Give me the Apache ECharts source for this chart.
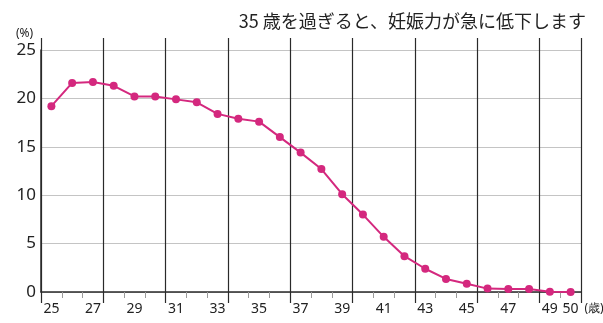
<!DOCTYPE html>
<html>
<head>
<meta charset="utf-8">
<script src="https://cdn.jsdelivr.net/npm/echarts@6/dist/echarts.min.js"></script>
<style>
  html, body { margin: 0; padding: 0; background: #fff; }
  #chart { width: 603px; height: 323px; }
</style>
</head>
<body>
<div id="chart"></div>
<script>
// Age (years) on the x axis and the pregnancy rate (%) per age
const ages = ['25','26','27','28','29','30','31','32','33','34','35','36','37',
              '38','39','40','41','42','43','44','45','46','47','48','49','50'];
const rates = [19.2, 21.6, 21.7, 21.3, 20.2, 20.2, 19.9, 19.6, 18.4, 17.9, 17.6, 16.0, 14.4,
               12.7, 10.1, 8.0, 5.7, 3.7, 2.4, 1.35, 0.85, 0.35, 0.3, 0.3, 0.02, 0.0];
const yTicks = [0, 5, 10, 15, 20, 25];

const headline = '35 歳を過ぎると、妊娠力が急に低下します';
const unitY = '(%)';
const unitX = '(歳)';

const narrow = '"Liberation Sans Narrow", "Noto Sans", sans-serif';
const dark = '#2a2a2a';
const pink = '#d4287e';

const chart = echarts.init(document.getElementById('chart'), null, { renderer: 'canvas' });

chart.setOption({
  animation: false,
  backgroundColor: '#fff',
  title: [
    {
      text: headline,
      right: 12, top: 7,
      textStyle: { fontFamily: '"Noto Sans CJK JP", sans-serif', fontSize: 18, fontWeight: 'normal', color: '#222' }
    },
    {
      text: unitY,
      left: 11, top: 23,
      textStyle: { fontFamily: narrow, fontSize: 12, fontWeight: 'normal', color: '#222' }
    }
  ],
  grid: { left: 41, right: 22, top: 50, bottom: 31, containLabel: false, outerBoundsMode: 'none' },
  xAxis: [
    {
      // categories, one band per age
      type: 'category',
      data: ages,
      boundaryGap: true,
      name: unitX,
      nameLocation: 'end',
      nameGap: 21,
      nameTextStyle: {
        fontFamily: narrow, fontSize: 12, color: '#222',
        align: 'right', verticalAlign: 'top', padding: [11, 0, 0, 0]
      },
      axisLine: { show: true, lineStyle: { color: dark, width: 1.5 } },
      axisTick: { show: true, interval: 0, length: 6, lineStyle: { color: '#9a9a9a', width: 1 } },
      axisLabel: {
        interval: (i) => i % 2 === 0 || i === ages.length - 1,
        hideOverlap: false,
        showMaxLabel: true,
        margin: 10,
        fontFamily: narrow, fontSize: 14, color: '#222'
      },
      splitLine: { show: false }
    },
    {
      // heavy vertical rules every three years, reaching below the axis
      type: 'value', min: 0, max: 26, interval: 3,
      position: 'bottom',
      axisLine: { show: false },
      axisTick: { show: true, length: 11, lineStyle: { color: dark, width: 1.2 } },
      axisLabel: { show: false },
      splitLine: { show: true, lineStyle: { color: dark, width: 1.2 } }
    },
    {
      // the same rules poking out above the plot
      type: 'value', min: 0, max: 26, interval: 3,
      position: 'top',
      axisLine: { show: false },
      axisTick: { show: true, length: 12, lineStyle: { color: dark, width: 1.2 } },
      axisLabel: { show: false },
      splitLine: { show: false }
    }
  ],
  yAxis: {
    type: 'value',
    min: yTicks[0], max: yTicks[yTicks.length - 1], interval: 5,
    axisLine: { show: true, lineStyle: { color: dark, width: 1.5 } },
    axisTick: { show: false },
    axisLabel: { margin: 5, fontFamily: narrow, fontSize: 17, color: '#222' },
    splitLine: { show: true, lineStyle: { color: '#c4c4c4', width: 1.2 } }
  },
  series: [
    {
      type: 'line',
      xAxisIndex: 0,
      data: rates,
      symbol: 'circle',
      symbolSize: 8,
      itemStyle: { color: pink },
      lineStyle: { color: pink, width: 2 },
      z: 5
    }
  ]
});
</script>
</body>
</html>
